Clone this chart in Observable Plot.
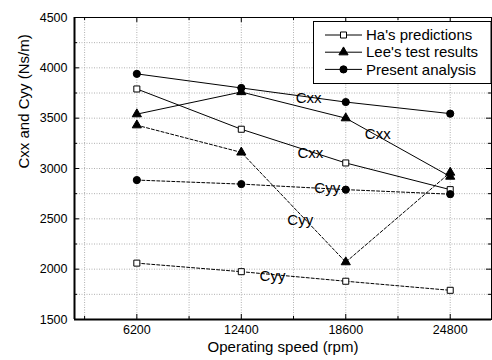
<!DOCTYPE html>
<html><head><meta charset="utf-8">
<script src="https://cdn.jsdelivr.net/npm/d3@7"></script>
<script src="https://cdn.jsdelivr.net/npm/@observablehq/plot@0.6"></script>
<style>body{margin:0;background:#fff} #chart{position:relative;width:492px;height:360px}</style>
</head><body><div id="chart"></div>
<script>
// ---- data ----
const speeds = [6200, 12400, 18600, 24800];
const seriesNames = ["Ha's predictions", "Lee's test results", "Present analysis"];
const haCxx = [3790, 3390, 3055, 2790];
const haCyy = [2060, 1975, 1880, 1790];
const leeCxx = [3540, 3760, 3500, 2920];
const leeCyy = [3430, 3160, 2070, 2960];
const presentCxx = [3940, 3800, 3660, 3545];
const presentCyy = [2885, 2845, 2790, 2745];
const yTicks = [1500, 2000, 2500, 3000, 3500, 4000, 4500];
const xMinor = [3100, 9300, 15500, 21700];
const yMinor = [1750, 2250, 2750, 3250, 3750, 4250];
const labelText = ["Cxx", "Cxx", "Cxx", "Cyy", "Cyy", "Cyy"];
const labelX = [16400, 20500, 16500, 17500, 15900, 14250];
const labelY = [3700, 3340, 3150, 2800, 2490, 1930];
const xTitle = "Operating speed (rpm)";
const yTitle = "Cxx and Cyy (Ns/m)";

// ---- table ----
const seriesVals = [[haCxx, haCyy], [leeCxx, leeCyy], [presentCxx, presentCyy]];
const rows = [];
seriesNames.forEach((name, si) => {
  ["Cxx", "Cyy"].forEach((comp, ci) => {
    speeds.forEach((s, i) => rows.push({speed: s, value: seriesVals[si][ci][i], series: name, comp}));
  });
});
const labels = labelText.map((t, i) => ({t, x: labelX[i], y: labelY[i]}));

const xDom = [2500, 27250], yDom = [1500, 4500];
const font = "'Liberation Sans', Arial, Helvetica, sans-serif";
const gridStyle = {stroke: "#b0b0b0", strokeWidth: 1, strokeDasharray: "1,1.5"};
const symbols = ["square", "triangle", "circle"];
const fills = ["white", "black", "black"];
const radii = [3.4, 3.4, 3.6];

const marks = [
  Plot.ruleX([...xMinor, ...speeds], {...gridStyle}),
  Plot.ruleY([...yMinor, ...yTicks.slice(1, -1)], {...gridStyle}),
  // ticks (inward)
  Plot.ruleX(speeds, {y1: 1500, y2: 1550, stroke: "black"}),
  Plot.ruleX(xMinor, {y1: 1500, y2: 1530, stroke: "black"}),
  Plot.ruleX(speeds, {y1: 4500, y2: 4450, stroke: "black"}),
  Plot.ruleX(xMinor, {y1: 4500, y2: 4470, stroke: "black"}),
  Plot.ruleY(yTicks, {x1: 2500, x2: 2800, stroke: "black"}),
  Plot.ruleY(yMinor, {x1: 2500, x2: 2680, stroke: "black"}),
  Plot.ruleY(yTicks, {x1: 27250, x2: 26950, stroke: "black"}),
  Plot.ruleY(yMinor, {x1: 27250, x2: 27070, stroke: "black"}),
  // lines
  Plot.line(rows.filter(d => d.comp === "Cxx"), {x: "speed", y: "value", z: "series", stroke: "black", strokeWidth: 1}),
  Plot.line(rows.filter(d => d.comp === "Cyy"), {x: "speed", y: "value", z: "series", stroke: "black", strokeWidth: 1, strokeDasharray: "3,2"}),
  ...seriesNames.map((name, i) => Plot.dot(rows.filter(d => d.series === name), {
    x: "speed", y: "value", symbol: symbols[i], r: radii[i], fill: fills[i], stroke: "black", strokeWidth: 1
  })),
  Plot.text(labels, {x: "x", y: "y", text: "t", fontSize: 15, fill: "black"}),
  // frame
  Plot.frame({stroke: "black", strokeWidth: 1}),
  Plot.ruleX([2500], {stroke: "black", strokeWidth: 2}),
  Plot.ruleY([1500], {stroke: "black", strokeWidth: 2}),
  Plot.axisX({ticks: speeds, tickSize: 0, tickPadding: 6, label: null, tickFormat: d => String(d)}),
  Plot.axisY({ticks: yTicks, tickSize: 0, tickPadding: 7, label: null, tickFormat: d => String(d)}),
  Plot.text([xTitle], {frameAnchor: "bottom", dy: 32, fontSize: 15, text: d => d}),
  Plot.text([yTitle], {frameAnchor: "left", dx: -50, rotate: -90, fontSize: 15, text: d => d})
];

const svg = Plot.plot({
  width: 492, height: 360,
  marginLeft: 74, marginRight: 1, marginTop: 17, marginBottom: 41,
  x: {domain: xDom},
  y: {domain: yDom},
  style: {fontFamily: font, fontSize: "12.5px", color: "black", background: "white"},
  marks
});

// legend
const g = d3.select(svg).append("g").attr("font-family", font).attr("font-size", 15).attr("text-anchor", "start");
g.append("rect").attr("x", 313.5).attr("y", 21.5).attr("width", 177.5).attr("height", 62)
  .attr("fill", "white").attr("stroke", "black");
const symFns = [d3.symbolSquare, d3.symbolTriangle, d3.symbolCircle];
seriesNames.forEach((name, i) => {
  const cy = 35 + i * 17.2;
  g.append("line").attr("x1", 325).attr("x2", 362).attr("y1", cy).attr("y2", cy).attr("stroke", "black");
  g.append("path").attr("d", d3.symbol(symFns[i], Math.PI * radii[i] * radii[i])())
    .attr("transform", `translate(343.5,${cy})`).attr("fill", fills[i]).attr("stroke", "black");
  g.append("text").attr("x", 366).attr("y", cy).attr("dy", "0.35em").attr("text-anchor", "start").text(name);
});

document.getElementById("chart").appendChild(svg);
</script></body></html>
